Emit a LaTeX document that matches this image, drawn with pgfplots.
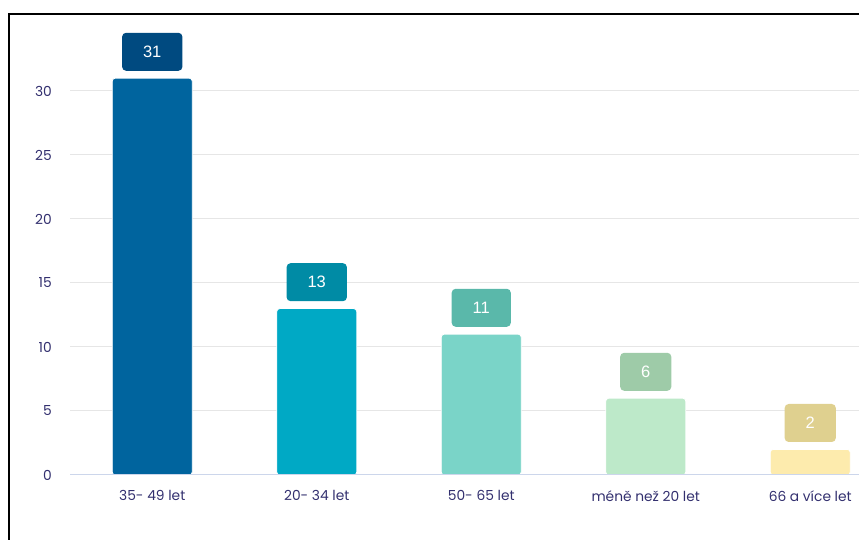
\documentclass[border=0pt]{standalone}
\usepackage{pgfplots}
\pgfplotsset{compat=1.18}
\usepackage{fontspec}
\setmainfont{Poppins}
\newfontfamily\lab{Liberation Sans}
\definecolor{b1}{HTML}{00649E}
\definecolor{b1d}{HTML}{004A80}
\definecolor{b2}{HTML}{00A9C5}
\definecolor{b2d}{HTML}{008BA5}
\definecolor{b3}{HTML}{7AD4C8}
\definecolor{b3d}{HTML}{5AB8AA}
\definecolor{b4}{HTML}{BDE9C9}
\definecolor{b4d}{HTML}{9ECBA8}
\definecolor{b5}{HTML}{FDEBAD}
\definecolor{b5d}{HTML}{DFD08F}
\definecolor{txt}{HTML}{33306F}
\definecolor{gridc}{HTML}{E6E6E6}
\definecolor{basec}{HTML}{CCD6EB}
\begin{document}
\begin{tikzpicture}[x=1pt,y=1pt]
\useasboundingbox (0,0) rectangle (859,540);
\clip (0,0) rectangle (859,540);
\draw[line width=2pt] (9,-5) -- (9,526) -- (870,526);
\begin{axis}[
  at={(70pt,65pt)}, anchor=south west,
  scale only axis, width=822.5pt, height=460.8pt,
  xmin=-0.5, xmax=4.5, ymin=0, ymax=36,
  axis line style={draw=none}, tick style={draw=none},
  ytick={0,5,...,30}, ymajorgrids, grid style={color=gridc, line width=1pt},
  xtick={0,1,2,3,4},
  xticklabels={35- 49 let,20- 34 let,50- 65 let,méně než 20 let,66 a více let},
  /pgf/number format/assume math mode=true,
  ticklabel style={font=\fontsize{13.8}{14}\selectfont, text=txt},
  yticklabel style={inner sep=0pt, xshift=-18pt},
  xticklabel style={inner sep=0pt, yshift=-11pt},
  ybar, bar width=80pt, bar shift=0pt,
  every axis plot/.append style={draw=white, line width=0.8pt, rounded corners=3pt},
  nodes near coords,
  every node near coord/.append style={font=\lab\fontsize{16.5}{16.5}\selectfont, text=white,
     rounded corners=4pt, minimum height=38pt, inner xsep=21pt, inner ysep=0pt,
     anchor=south, yshift=7pt, draw=none},
]
\addplot[fill=b1, every node near coord/.append style={fill=b1d}] coordinates {(0,31)};
\addplot[fill=b2, every node near coord/.append style={fill=b2d}] coordinates {(1,13)};
\addplot[fill=b3, every node near coord/.append style={fill=b3d}] coordinates {(2,11)};
\addplot[fill=b4, every node near coord/.append style={fill=b4d}] coordinates {(3,6)};
\addplot[fill=b5, every node near coord/.append style={fill=b5d}] coordinates {(4,2)};
\draw[basec, line width=1pt] (axis cs:-0.5,0) -- (axis cs:4.5,0);
\end{axis}
\end{tikzpicture}
\end{document}
